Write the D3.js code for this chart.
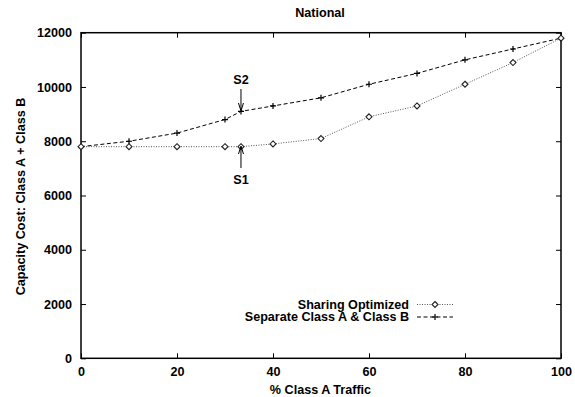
<!DOCTYPE html>
<html><head><meta charset="utf-8">
<script src="https://cdn.jsdelivr.net/npm/d3@7"></script>
<style>body{margin:0;background:#fff}text{font-family:"Liberation Sans",Arial,sans-serif;font-weight:bold}</style>
</head><body><svg id="c" width="575" height="397"></svg>
<script>
const xValues = [0, 10, 20, 30, 33.33, 40, 50, 60, 70, 80, 90, 100];
const sharingOptimized = [7800, 7800, 7800, 7800, 7800, 7900, 8100, 8900, 9300, 10100, 10900, 11800];
const separateAB = [7800, 8000, 8300, 8800, 9100, 9300, 9600, 10100, 10500, 11000, 11400, 11800];
const xTicks = [0, 20, 40, 60, 80, 100];
const yTicks = [0, 2000, 4000, 6000, 8000, 10000, 12000];
const seriesNames = ["Sharing Optimized", "Separate Class A & Class B"];
const title = "National";
const xLabel = "% Class A Traffic";
const yLabel = "Capacity Cost: Class A + Class B";

const svg = d3.select("#c");
const L = 81, R = 561, T = 32.7, B = 358.3;
const x = d3.scaleLinear().domain([0, 100]).range([L, R]);
const y = d3.scaleLinear().domain([0, 12000]).range([B, T]);
const fs = 12.6;

const tick = 5;
const gx = svg.append("g").attr("transform", `translate(0,${B})`)
  .call(d3.axisBottom(x).tickValues(xTicks).tickFormat(d3.format("d")).tickSizeInner(-tick).tickSizeOuter(0).tickPadding(9));
const gy = svg.append("g").attr("transform", `translate(${L},0)`)
  .call(d3.axisLeft(y).tickValues(yTicks).tickFormat(d3.format("d")).tickSizeInner(-tick).tickSizeOuter(0).tickPadding(9));
const gt = svg.append("g").attr("transform", `translate(0,${T})`)
  .call(d3.axisTop(x).tickValues(xTicks).tickSizeInner(-tick).tickSizeOuter(0).tickFormat(""));
const gr = svg.append("g").attr("transform", `translate(${R},0)`)
  .call(d3.axisRight(y).tickValues(yTicks).tickSizeInner(-tick).tickSizeOuter(0).tickFormat(""));
[gx, gy, gt, gr].forEach(g => {
  g.select(".domain").remove();
  g.selectAll("line").attr("stroke", "#000").attr("stroke-width", 1);
  g.selectAll("text").attr("font-size", fs).attr("font-weight", "bold")
    .attr("font-family", "Liberation Sans, Arial, sans-serif").attr("fill", "#000");
});
gx.selectAll("text").attr("dy", "0.71em");
svg.append("rect").attr("x", L).attr("y", T).attr("width", R - L).attr("height", B - T)
  .attr("fill", "none").attr("stroke", "#000").attr("stroke-width", 1.5);

svg.append("text").attr("x", 320).attr("y", 17).attr("text-anchor", "middle").attr("font-size", fs).text(title);
svg.append("text").attr("x", 320.5).attr("y", 394).attr("text-anchor", "middle").attr("font-size", fs).text(xLabel);
svg.append("text").attr("transform", `translate(25,196.5) rotate(-90)`).attr("text-anchor", "middle").attr("font-size", fs).text(yLabel);

const line = d3.line().x((d, i) => x(xValues[i])).y(d => y(d));
svg.append("path").datum(separateAB).attr("d", line).attr("fill", "none")
  .attr("stroke", "#000").attr("stroke-width", 1).attr("stroke-dasharray", "4,2.5");
svg.append("path").datum(sharingOptimized).attr("d", line).attr("fill", "none")
  .attr("stroke", "#555").attr("stroke-width", 1).attr("stroke-dasharray", "1,1.5");

function plus(g, cx, cy) {
  g.append("path").attr("d", `M${cx - 3},${cy}H${cx + 3}M${cx},${cy - 3}V${cy + 3}`).attr("stroke", "#000").attr("stroke-width", 1.2);
}
function diamond(g, cx, cy) {
  g.append("path").attr("d", `M${cx},${cy - 3}L${cx + 3},${cy}L${cx},${cy + 3}L${cx - 3},${cy}Z`)
    .attr("fill", "#fff").attr("stroke", "#222").attr("stroke-width", 1.1);
}
const mk = svg.append("g");
separateAB.forEach((v, i) => plus(mk, x(xValues[i]), y(v)));
sharingOptimized.forEach((v, i) => diamond(mk, x(xValues[i]), y(v)));

const ax = x(33.33);
svg.append("text").attr("x", ax).attr("y", 83.5).attr("text-anchor", "middle").attr("font-size", fs).text("S2");
svg.append("line").attr("x1", ax).attr("x2", ax).attr("y1", 89).attr("y2", 109).attr("stroke", "#000");
svg.append("path").attr("d", `M${ax - 2.5},${103}L${ax},${111}L${ax + 2.5},${103}`).attr("fill", "none").attr("stroke", "#000");
svg.append("text").attr("x", ax).attr("y", 184).attr("text-anchor", "middle").attr("font-size", fs).text("S1");
svg.append("line").attr("x1", ax).attr("x2", ax).attr("y1", 168).attr("y2", 148).attr("stroke", "#000");
svg.append("path").attr("d", `M${ax - 2.5},${154}L${ax},${146}L${ax + 2.5},${154}`).attr("fill", "none").attr("stroke", "#000");

const lx1 = 417, lx2 = 453, ly = [304.5, 317];
svg.append("text").attr("x", 409).attr("y", ly[0]).attr("dy", "0.35em").attr("text-anchor", "end").attr("font-size", fs).text(seriesNames[0]);
svg.append("text").attr("x", 409).attr("y", ly[1]).attr("dy", "0.35em").attr("text-anchor", "end").attr("font-size", fs).text(seriesNames[1]);
svg.append("line").attr("x1", lx1).attr("x2", lx2).attr("y1", ly[0]).attr("y2", ly[0]).attr("stroke", "#555").attr("stroke-dasharray", "1,1.5");
diamond(svg, (lx1 + lx2) / 2, ly[0]);
svg.append("line").attr("x1", lx1).attr("x2", lx2).attr("y1", ly[1]).attr("y2", ly[1]).attr("stroke", "#000").attr("stroke-dasharray", "4,2.5");
plus(svg, (lx1 + lx2) / 2, ly[1]);
</script></body></html>
